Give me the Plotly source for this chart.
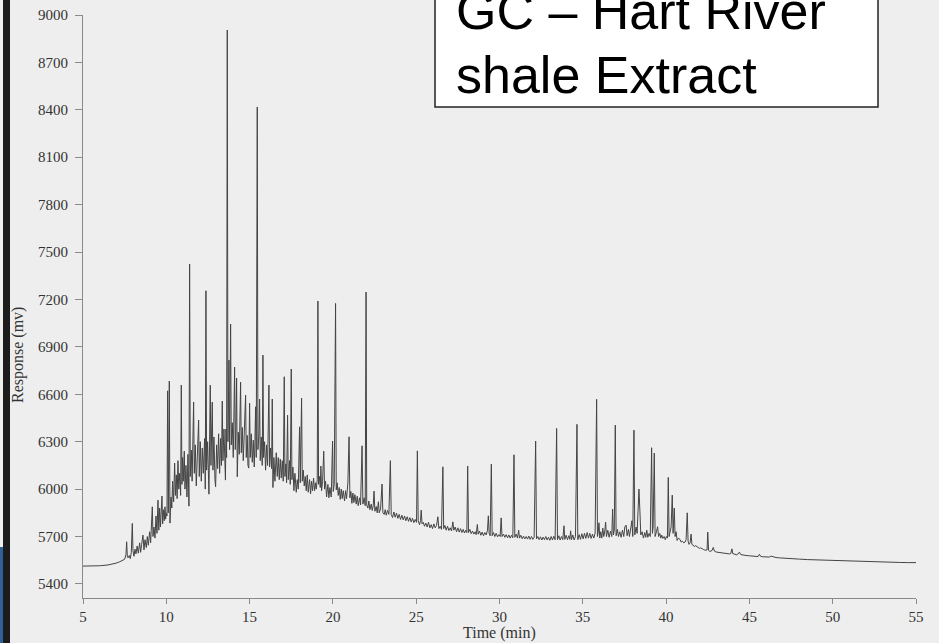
import plotly.graph_objects as go

# ---- data: (time in min, response in mV) vertices ----
seg_5_10 = [(5.0,5513),(5.5,5513),(6.0,5515),(6.5,5520),(6.8,5525),(7.0,5532),(7.2,5540),(7.4,5550),(7.5,5556),
    (7.58,5585),(7.62,5667),(7.66,5575),(7.7,5565),(7.78,5580),(7.84,5560),(7.9,5600),(7.96,5783),(8.0,5610),
    (8.06,5575),(8.12,5620),(8.18,5590),(8.25,5640),(8.32,5595),(8.4,5660),(8.46,5600),(8.52,5650),(8.6,5709),
    (8.66,5615),(8.72,5680),(8.8,5630),(8.86,5700),(8.92,5645),(9.0,5730),(9.06,5660),(9.12,5790),(9.16,5888),
    (9.2,5700),(9.26,5760),(9.32,5690),(9.38,5830),(9.44,5720),(9.5,5930),(9.55,5740),(9.6,5880),(9.65,5760),
    (9.7,5900),(9.74,5956),(9.78,5780),(9.84,5870),(9.88,5800),(9.92,5888),(9.96,5810),(10.0,5850)]

seg_10_15 = [(10.04,5830),(10.08,6622),(10.12,5850),(10.18,6684),(10.22,5785),(10.28,5950),(10.33,5880),
    (10.38,6050),(10.44,5920),(10.5,6165),(10.55,5960),(10.6,6090),(10.65,5940),(10.7,6180),(10.75,6000),
    (10.8,6100),(10.86,5960),(10.9,6658),(10.94,6030),(10.98,6200),(11.02,6050),(11.08,6240),(11.12,6000),
    (11.18,6150),(11.24,5950),(11.3,6220),(11.36,5892),(11.4,7424),(11.44,6080),(11.5,6247),(11.55,6050),
    (11.6,6260),(11.64,6551),(11.68,6100),(11.74,6280),(11.8,6020),(11.86,6200),(11.94,6437),(11.98,6080),
    (12.04,6300),(12.1,6050),(12.16,6260),(12.22,6100),(12.3,6320),(12.34,6000),(12.38,7255),(12.42,6120),
    (12.48,6300),(12.56,5968),(12.6,6250),(12.64,6658),(12.68,6150),(12.72,6280),(12.76,6551),(12.8,6120),
    (12.86,6330),(12.92,6060),(12.96,6015),(13.02,6280),(13.08,6130),(13.14,6350),(13.2,6100),(13.26,6320),
    (13.31,6150),(13.36,6557),(13.4,6180),(13.46,6380),(13.5,6120),(13.55,6057),(13.58,6380),(13.62,6200),
    (13.66,8905),(13.7,6300),(13.76,6816),(13.8,6250),(13.86,7044),(13.9,6280),(13.96,6420),(14.02,6200),
    (14.1,6772),(14.14,6250),(14.18,6400),(14.22,6703),(14.26,6078),(14.32,6360),(14.38,6220),(14.46,6677),
    (14.5,6230),(14.56,6390),(14.62,6180),(14.7,6380),(14.76,6595),(14.8,6200),(14.86,6340),(14.9,6150),
    (14.95,6133),(15.0,6544)]

seg_15_20 = [(15.04,6200),(15.1,6350),(15.16,6170),(15.22,6310),(15.28,6140),(15.32,6300),(15.36,6521),
    (15.4,6200),(15.46,8418),(15.5,6250),(15.56,6350),(15.6,6570),(15.64,6180),(15.7,6330),(15.76,6150),
    (15.8,6848),(15.84,6200),(15.9,6300),(15.96,6120),(16.02,6280),(16.08,6150),(16.16,6658),(16.2,6140),
    (16.26,6260),(16.32,6130),(16.36,6570),(16.4,6010),(16.46,6200),(16.52,6050),(16.6,6230),(16.66,6080),
    (16.72,6200),(16.78,6060),(16.84,6190),(16.9,6070),(16.96,6180),(17.02,6050),(17.08,6711),(17.12,6080),
    (17.18,6160),(17.22,6040),(17.28,6468),(17.32,6060),(17.4,6180),(17.44,6030),(17.5,6760),(17.54,6060),
    (17.6,6140),(17.66,5990),(17.72,6100),(17.8,5980),(17.86,6060),(17.92,6000),(18.0,6394),(18.04,6040),
    (18.12,6576),(18.16,6050),(18.22,6120),(18.28,6020),(18.34,6080),(18.4,5990),(18.46,6090),(18.52,5980),
    (18.6,6060),(18.66,5970),(18.72,6050),(18.78,5990),(18.84,6070),(18.9,5990),(18.96,6040),(19.0,6000),
    (19.06,6060),(19.1,7190),(19.14,6030),(19.2,6080),(19.24,6010),(19.28,6146),(19.32,5990),(19.38,6050),
    (19.45,6240),(19.5,6000),(19.56,6050),(19.62,5950),(19.7,6030),(19.76,5945),(19.82,6010),(19.9,5950),
    (19.98,6304)]

seg_20_25 = [(20.02,5985),(20.08,6030),(20.16,7175),(20.2,5995),(20.26,6040),(20.32,5960),(20.38,6010),
    (20.44,5935),(20.5,6000),(20.56,5940),(20.62,5990),(20.7,5925),(20.76,5990),(20.82,5940),(20.9,6040),
    (20.97,6331),(21.02,5945),(21.08,5985),(21.14,5910),(21.2,5975),(21.26,5915),(21.32,5965),(21.4,5905),
    (21.46,5955),(21.52,5895),(21.6,5945),(21.66,5900),(21.75,6274),(21.8,5905),(21.88,5945),(21.94,5895),
    (21.99,7247),(22.03,5900),(22.1,5880),(22.16,5925),(22.22,5870),(22.3,5905),(22.36,5865),(22.42,5895),
    (22.47,5987),(22.52,5860),(22.6,5890),(22.66,5850),(22.73,5920),(22.78,5850),(22.86,5875),(22.95,6032),
    (23.0,5850),(23.08,5840),(23.14,5870),(23.2,5835),(23.28,5865),(23.36,5840),(23.45,6180),(23.5,5840),
    (23.58,5820),(23.66,5855),(23.74,5822),(23.82,5848),(23.9,5815),(23.98,5840),(24.06,5808),(24.14,5835),
    (24.22,5805),(24.3,5830),(24.38,5800),(24.46,5825),(24.54,5796),(24.62,5820),(24.7,5792),(24.78,5815),
    (24.86,5788),(24.94,5808),(25.02,5790),(25.07,6242)]

seg_25_36 = [(25.12,5800),(25.2,5775),(25.26,5800),(25.3,5867),(25.35,5780),(25.42,5790),(25.5,5765),
    (25.58,5785),(25.66,5760),(25.74,5790),(25.82,5755),(25.9,5775),(25.98,5750),(26.06,5780),(26.14,5755),
    (26.22,5770),(26.3,5825),(26.36,5750),(26.44,5765),(26.52,5745),(26.6,6141),(26.65,5750),(26.72,5770),
    (26.8,5740),(26.88,5765),(26.96,5738),(27.04,5755),(27.12,5735),(27.2,5793),(27.26,5740),(27.34,5760),
    (27.42,5730),(27.5,5755),(27.58,5728),(27.66,5750),(27.74,5725),(27.82,5745),(27.9,5722),(27.98,5740),
    (28.04,5725),(28.09,6146),(28.14,5725),(28.22,5745),(28.3,5718),(28.38,5735),(28.46,5715),(28.54,5730),
    (28.6,5712),(28.67,5776),(28.72,5715),(28.8,5735),(28.88,5708),(28.96,5728),(29.04,5705),(29.12,5725),
    (29.2,5710),(29.28,5740),(29.33,5831),(29.38,5720),(29.44,5705),(29.51,6158),(29.56,5705),(29.64,5725),
    (29.72,5700),(29.8,5720),(29.88,5698),(29.96,5712),(30.04,5700),(30.1,5818),(30.15,5700),(30.24,5715),
    (30.32,5695),(30.4,5712),(30.48,5692),(30.56,5710),(30.64,5690),(30.72,5708),(30.8,5692),(30.87,6217),
    (30.92,5695),(31.0,5715),(31.08,5690),(31.15,5740),(31.2,5690),(31.28,5708),(31.36,5686),(31.44,5702),
    (31.52,5685),(31.6,5700),(31.68,5684),(31.76,5703),(31.84,5682),(31.92,5700),(32.0,5682),(32.08,5695),
    (32.17,6304),(32.22,5685),(32.3,5700),(32.38,5680),(32.46,5698),(32.54,5678),(32.62,5696),(32.7,5680),
    (32.78,5700),(32.86,5678),(32.94,5695),(33.02,5676),(33.1,5700),(33.18,5678),(33.26,5702),(33.34,5680),
    (33.43,6384),(33.48,5680),(33.56,5705),(33.64,5678),(33.72,5700),(33.8,5680),(33.87,5768),(33.92,5682),
    (34.0,5708),(34.08,5680),(34.16,5705),(34.22,5682),(34.27,5736),(34.32,5680),(34.4,5710),(34.48,5678),
    (34.56,5700),(34.65,6410),(34.7,5680),(34.78,5712),(34.86,5682),(34.94,5718),(35.02,5685),(35.1,5720),
    (35.18,5688),(35.26,5725),(35.34,5690),(35.42,5720),(35.5,5688),(35.58,5715),(35.66,5690),(35.74,5722),
    (35.83,6568),(35.88,5700),(35.93,5730),(35.97,5787),(36.02,5690)]

seg_36_42 = [(36.08,5730),(36.14,5690),(36.2,5753),(36.26,5700),(36.32,5735),(36.37,5791),(36.42,5700),
    (36.5,5740),(36.58,5695),(36.66,5735),(36.74,5700),(36.79,5873),(36.84,5710),(36.89,5740),(36.95,6405),
    (37.0,5705),(37.08,5745),(37.14,5700),(37.22,5730),(37.3,5695),(37.38,5740),(37.46,5700),(37.52,5760),
    (37.6,5772),(37.66,5705),(37.74,5745),(37.8,5700),(37.88,5760),(37.95,5800),(38.0,5700),(38.07,6373),
    (38.12,5710),(38.2,5760),(38.26,5720),(38.32,5850),(38.37,6000),(38.43,5856),(38.48,5710),(38.56,5730),
    (38.64,5690),(38.72,5725),(38.78,5695),(38.84,5740),(38.9,5695),(38.98,5720),(39.05,5700),(39.13,6262),
    (39.18,5720),(39.22,5760),(39.29,6228),(39.34,5700),(39.42,5730),(39.49,5762),(39.55,5700),(39.62,5720),
    (39.68,5690),(39.74,5709),(39.8,5688),(39.88,5700),(39.95,5680),(40.02,5700),(40.08,5690),(40.13,6074),
    (40.18,5700),(40.24,5730),(40.3,5760),(40.37,5962),(40.42,5720),(40.49,5880),(40.54,5700),(40.6,5730),
    (40.66,5675),(40.74,5690),(40.84,5681),(40.9,5665),(40.98,5670),(41.06,5660),(41.14,5665),(41.2,5680),
    (41.27,5850),(41.32,5670),(41.38,5650),(41.44,5660),(41.5,5715),(41.55,5650),(41.62,5645),(41.7,5638),
    (41.78,5642),(41.85,5635),(41.92,5630),(42.0,5625),(42.08,5628),(42.16,5620),(42.24,5618),(42.32,5614),
    (42.4,5612)]

seg_42_55 = [(42.46,5615),(42.5,5728),(42.55,5612),(42.62,5605),(42.7,5608),(42.76,5612),(42.83,5631),
    (42.9,5608),(43.0,5602),(43.1,5600),(43.2,5598),(43.3,5596),(43.4,5594),(43.5,5592),(43.6,5592),
    (43.7,5590),(43.8,5590),(43.88,5592),(43.95,5622),(44.0,5592),(44.08,5588),(44.16,5586),(44.24,5584),
    (44.32,5590),(44.4,5601),(44.48,5586),(44.6,5582),(44.8,5580),(45.0,5578),(45.2,5576),(45.4,5574),
    (45.52,5573),(45.6,5588),(45.68,5574),(45.8,5572),(46.0,5570),(46.2,5570),(46.3,5576),(46.4,5572),
    (46.6,5567),(46.8,5565),(47.0,5563),(47.5,5560),(48.0,5557),(48.5,5554),(49.0,5552),(49.5,5550),
    (50.0,5548),(50.5,5546),(51.0,5544),(51.5,5542),(52.0,5540),(52.5,5539),(53.0,5538),(53.5,5537),
    (54.0,5536),(54.5,5535),(55.0,5535)]

x_ticks = [5, 10, 15, 20, 25, 30, 35, 40, 45, 50, 55]
y_ticks = [5400, 5700, 6000, 6300, 6600, 6900, 7200, 7500, 7800, 8100, 8400, 8700, 9000]
title_lines = ["GC – Hart River", "shale Extract"]
x_title = "Time (min)"
y_title = "Response (mv)"

points = seg_5_10 + seg_10_15 + seg_15_20 + seg_20_25 + seg_25_36 + seg_36_42 + seg_42_55
times = [p[0] for p in points]
resp = [p[1] for p in points]

W, H = 939, 643
ML, MR, MT, MB = 83, 23, 15, 45
PW, PH = W - ML - MR, H - MT - MB

def px(xp):  # pixel x -> paper x
    return (xp - ML) / PW

def py(yp):  # pixel y -> paper y
    return (H - MB - yp) / PH

bg = "#eeeeee"
axis_col = "#8a8a8a"
serif = "Liberation Serif, Times New Roman, serif"
sans = "Liberation Sans, Arial, sans-serif"

fig = go.Figure()
fig.add_trace(go.Scatter(x=times, y=resp, mode="lines",
                         line=dict(color="#444444", width=1), hoverinfo="skip", showlegend=False))

fig.update_layout(
    width=W, height=H,
    margin=dict(l=ML, r=MR, t=MT, b=MB, autoexpand=False),
    paper_bgcolor=bg, plot_bgcolor=bg,
    xaxis=dict(range=[5, 55], tickmode="array", tickvals=x_ticks, ticks="outside", ticklen=5,
               tickcolor=axis_col, showline=True, linecolor=axis_col, linewidth=1,
               showgrid=False, zeroline=False,
               tickfont=dict(family=serif, size=15, color="#333333")),
    yaxis=dict(range=[5311, 9000], tickmode="array", tickvals=y_ticks, ticks="outside", ticklen=7,
               tickcolor=axis_col, showline=True, linecolor=axis_col, linewidth=1,
               showgrid=False, zeroline=False, ticklabelstandoff=4,
               tickfont=dict(family=serif, size=15, color="#333333")),
    shapes=[
        # slide edge strips at the far left
        dict(type="rect", xref="paper", yref="paper", x0=px(0), x1=px(3), y0=py(H), y1=py(547),
             fillcolor="#2f6096", line=dict(width=0), layer="above"),
        dict(type="rect", xref="paper", yref="paper", x0=px(3), x1=px(10), y0=py(H), y1=py(0),
             fillcolor="#1c1c1c", line=dict(width=0), layer="above"),
        # title box
        dict(type="rect", xref="paper", yref="paper", x0=px(435), x1=px(878), y0=py(107), y1=py(-10),
             fillcolor="white", line=dict(color="#222222", width=1.5), layer="above"),
    ],
    annotations=[
        dict(text=title_lines[0], xref="paper", yref="paper", x=px(454), y=py(10.5), xanchor="left",
             yanchor="middle", showarrow=False, font=dict(family=sans, size=52, color="black")),
        dict(text=title_lines[1], xref="paper", yref="paper", x=px(454), y=py(75.5), xanchor="left",
             yanchor="middle", showarrow=False, font=dict(family=sans, size=52, color="black")),
        dict(text=x_title, xref="paper", yref="paper", x=0.5, y=py(633), xanchor="center",
             yanchor="middle", showarrow=False, font=dict(family=serif, size=16, color="#333333")),
        dict(text=y_title, xref="paper", yref="paper", x=px(18), y=py(355), xanchor="center",
             yanchor="middle", textangle=-90, showarrow=False,
             font=dict(family=serif, size=16, color="#333333")),
    ],
)

fig.write_html("out.html", config={"displayModeBar": False},
               post_script="document.body.style.margin='0';document.body.style.overflow='hidden';")
